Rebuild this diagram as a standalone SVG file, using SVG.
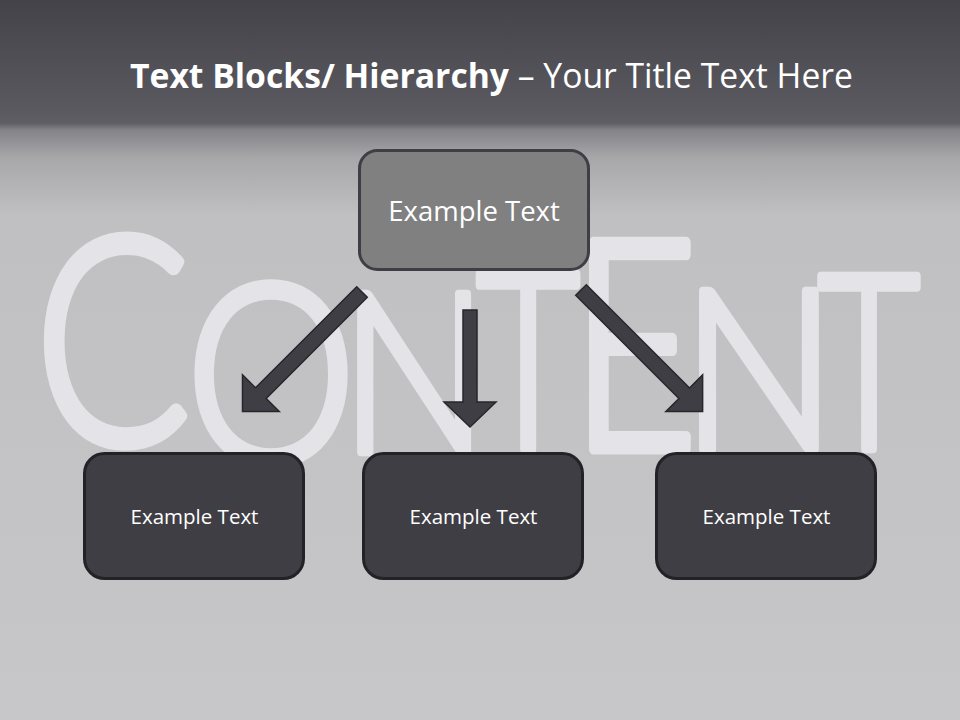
<svg xmlns="http://www.w3.org/2000/svg" width="960" height="720" viewBox="0 0 960 720">
  <defs>
    <linearGradient id="bg" x1="0" y1="0" x2="0" y2="720" gradientUnits="userSpaceOnUse">
      <stop offset="0" stop-color="#44434a"/>
      <stop offset="0.153" stop-color="#5a5960"/>
      <stop offset="0.171" stop-color="#5f5e65"/>
      <stop offset="0.18" stop-color="#838287"/>
      <stop offset="0.22" stop-color="#a8a8ab"/>
      <stop offset="0.3" stop-color="#c0c0c2"/>
      <stop offset="1" stop-color="#c7c7c9"/>
    </linearGradient>
    <style>
      .chalk { font-family: Lato, "DejaVu Sans", sans-serif; font-weight: 300; font-size: 100px; fill: #e4e4e8; stroke: #e4e4e8; stroke-width: 3.8; stroke-linejoin: round; stroke-linecap: round; text-anchor: middle; }
      .title { font-family: "Open Sans", "Liberation Sans", sans-serif; font-size: 34px; fill: #ffffff; }
      .lbl { font-family: "Open Sans", "Liberation Sans", sans-serif; fill: #ffffff; text-anchor: middle; dominant-baseline: central; }
      .top { fill: #808080; stroke: #3f3e45; stroke-width: 3; }
      .child { fill: #3f3e45; stroke: #232227; stroke-width: 3; }
      .arrow { fill: #3f3e45; stroke: #27262b; stroke-width: 1.5; stroke-linejoin: miter; }
    </style>
  </defs>

  <rect x="0" y="0" width="960" height="720" fill="url(#bg)"/>

  <g id="content-watermark">
    <text class="chalk" transform="translate(112.5,443) scale(2.3,2.88)">C</text>
    <text class="chalk" transform="translate(271,462) scale(2.15,2.5)">O</text>
    <text class="chalk" transform="translate(414,452) scale(1.95,2.24)">N</text>
    <text class="chalk" transform="translate(528,449) scale(1.78,2.47)">T</text>
    <text class="chalk" transform="translate(634,449) scale(2.2,2.92)">E</text>
    <text class="chalk" transform="translate(759,449) scale(2.05,2.24)">N</text>
    <text class="chalk" transform="translate(869,449) scale(1.76,2.44)">T</text>
  </g>

  <g id="title">
    <text class="title" x="130" y="88" textLength="723" lengthAdjust="spacingAndGlyphs"><tspan font-weight="700">Text Blocks/ Hierarchy</tspan> – Your Title Text Here</text>
  </g>

  <g id="connectors">
    <polygon class="arrow" transform="translate(362,292) rotate(135)" points="0,-7.5 143,-7.5 143,-26 169,0 143,26 143,7.5 0,7.5"/>
    <polygon class="arrow" transform="translate(470,310) rotate(90)" points="0,-7 92,-7 92,-26 117,0 92,26 92,7 0,7"/>
    <polygon class="arrow" transform="translate(581,290) rotate(45)" points="0,-7.5 146,-7.5 146,-26 172,0 146,26 146,7.5 0,7.5"/>
  </g>

  <g id="node-top">
    <rect class="top" x="359.5" y="150.5" width="229" height="119" rx="18"/>
    <text class="lbl" x="474" y="210" font-size="27.5">Example Text</text>
  </g>

  <g id="node-left">
    <rect class="child" x="84.5" y="453.5" width="219" height="125" rx="20"/>
    <text class="lbl" x="194.5" y="516" font-size="20.5">Example Text</text>
  </g>

  <g id="node-mid">
    <rect class="child" x="363.5" y="453.5" width="219" height="125" rx="20"/>
    <text class="lbl" x="473.5" y="516" font-size="20.5">Example Text</text>
  </g>

  <g id="node-right">
    <rect class="child" x="656.5" y="453.5" width="219" height="125" rx="20"/>
    <text class="lbl" x="766.5" y="516" font-size="20.5">Example Text</text>
  </g>
</svg>
